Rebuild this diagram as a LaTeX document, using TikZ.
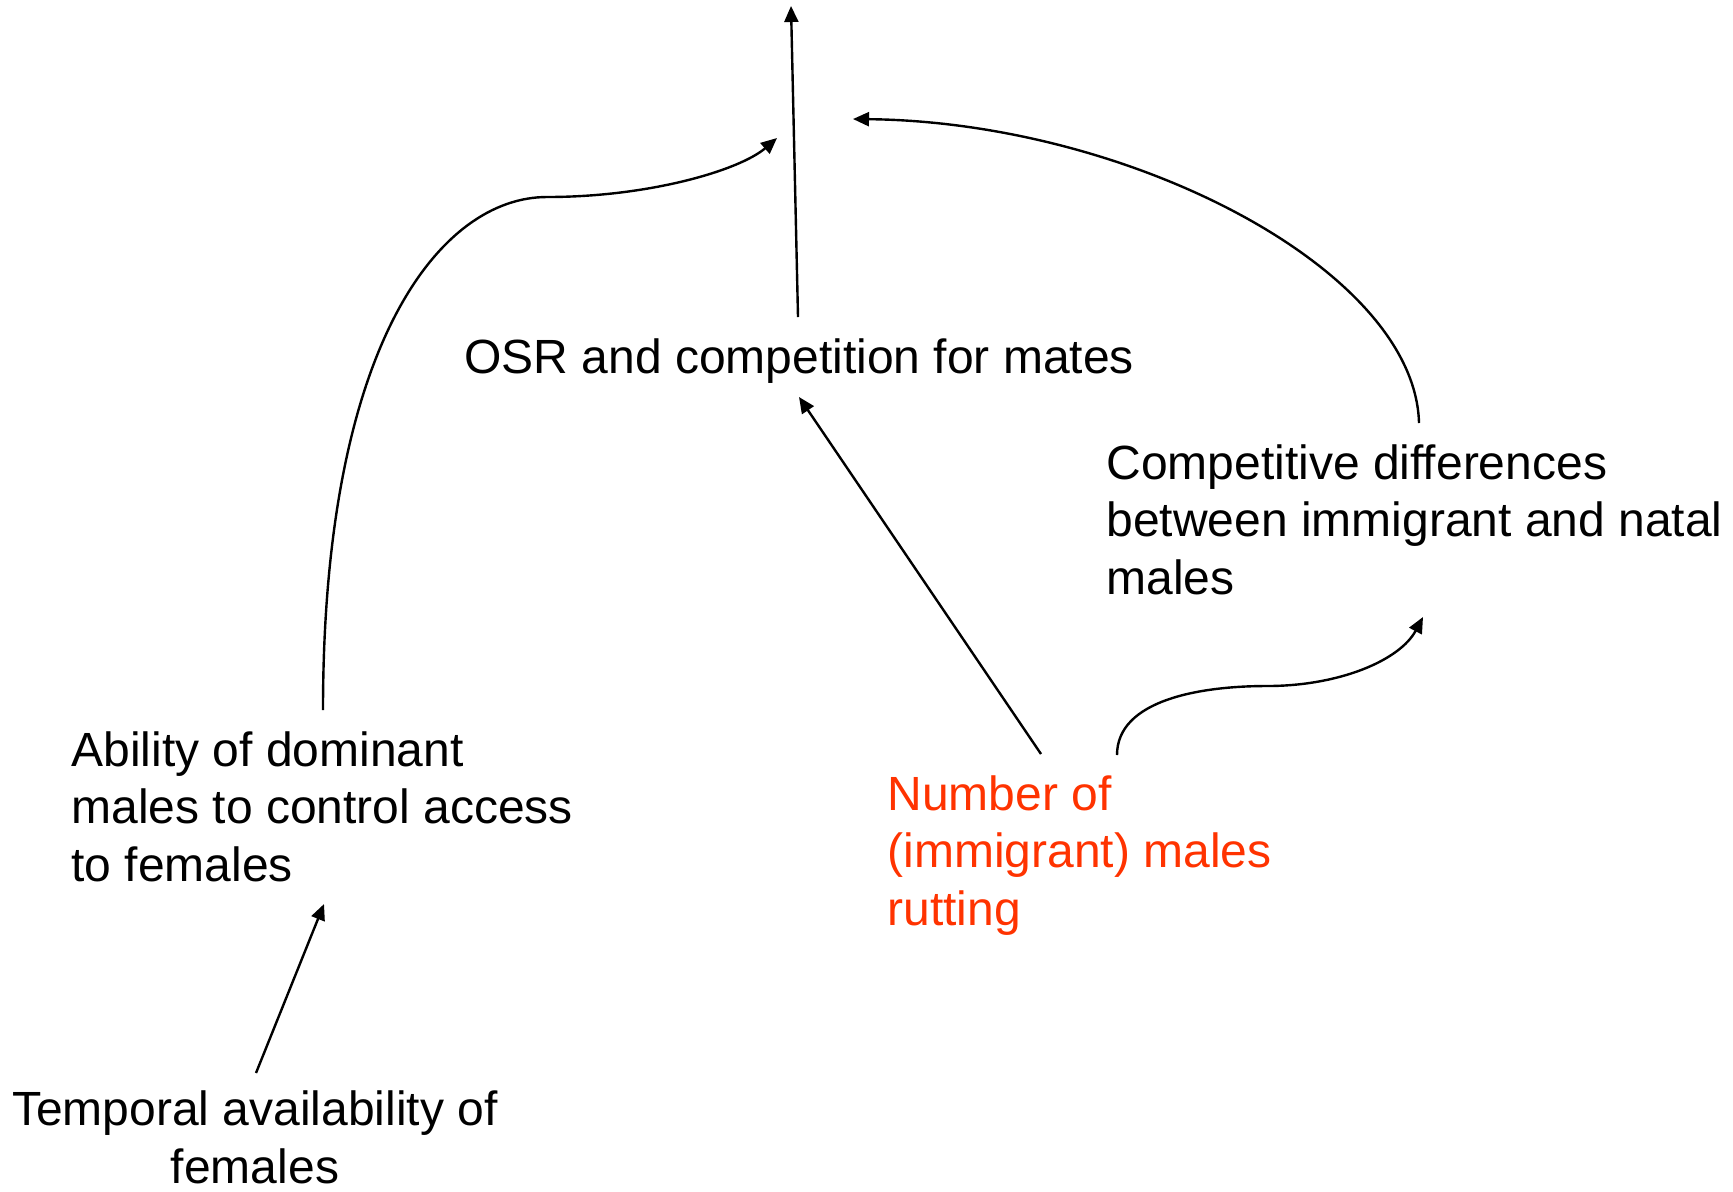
\documentclass[tikz,border=0pt]{standalone}
\usepackage{fontspec}
\setmainfont{Liberation Sans}
\usetikzlibrary{arrows.meta}
\definecolor{redtxt}{HTML}{FF3300}
\tikzset{
  lbl/.style={inner sep=0pt, font=\fontsize{24}{28.75}\selectfont, align=left, anchor=base west},
  conn/.style={line width=1.2pt, -{Triangle[length=8pt,width=7pt]}}
}
\begin{document}
\begin{tikzpicture}[x=0.5pt,y=-0.5pt]
\useasboundingbox (0,0) rectangle (1733,1191);
\node[lbl] (osr) at (464,373) {OSR and competition for mates};
\node[lbl] (comp) at (1106,594) {Competitive differences\\between immigrant and natal\\males};
\node[lbl] (abil) at (71,881) {Ability of dominant\\males to control access\\to females};
\node[lbl, text=redtxt] (num) at (887,925) {Number of\\(immigrant) males\\rutting};
\node[lbl, align=center, anchor=base] (temp) at (255,1183) {Temporal availability of\\females};
\coordinate (osrT) at (798,317);
\coordinate (top) at (791,6);
\coordinate (abT) at (323,710);
\coordinate (mid) at (547,197);
\coordinate (lTip) at (777,138);
\coordinate (cS) at (1419,423);
\coordinate (rTip) at (853,119);
\coordinate (nA) at (1041,754);
\coordinate (osrB) at (799,397);
\coordinate (nB) at (1117,755);
\coordinate (sMid) at (1267,686);
\coordinate (sTip) at (1423,617);
\coordinate (tT) at (256,1073);
\coordinate (abB) at (324,904);
\draw[conn] (osrT) -- (top);
\draw[conn] (abT) .. controls (323,340) and (442,197) .. (mid) .. controls (650,197) and (740,170) .. (lTip);
\draw[conn] (cS) .. controls (1415,270) and (1130,122) .. (rTip);
\draw[conn] (nA) -- (osrB);
\draw[conn] (nB) .. controls (1117,700) and (1200,686) .. (sMid) .. controls (1340,686) and (1400,660) .. (sTip);
\draw[conn] (tT) -- (abB);
\end{tikzpicture}
\end{document}
